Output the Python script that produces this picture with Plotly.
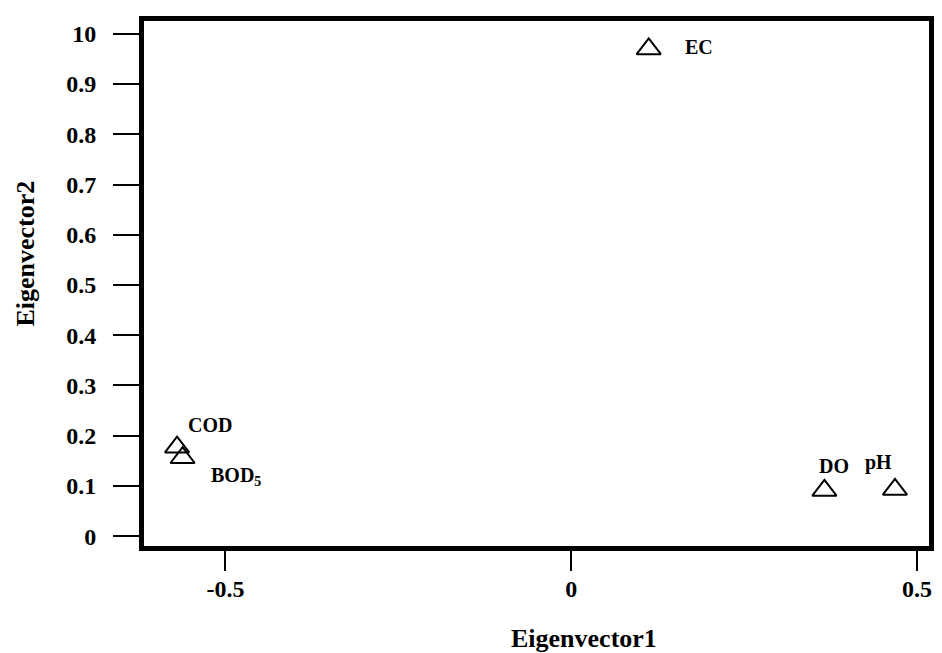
import plotly.graph_objects as go

# Data
variables = ["EC", "COD", "BOD<sub>5</sub>", "DO", "pH"]
eigenvector1 = [0.112, -0.570, -0.562, 0.366, 0.468]
eigenvector2 = [0.970, 0.177, 0.156, 0.091, 0.093]

y_tickvals = [0, 0.1, 0.2, 0.3, 0.4, 0.5, 0.6, 0.7, 0.8, 0.9, 1.0]
y_ticktext = ["0", "0.1", "0.2", "0.3", "0.4", "0.5", "0.6", "0.7", "0.8", "0.9", "10"]
x_tickvals = [-0.5, 0, 0.5]
x_ticktext = ["-0.5", "0", "0.5"]

# label offsets in pixels (style)
label_dx = [50, 33, 53, 10, -16]
label_dy = [2, 22, -19, 24, 27]

FONT = "Liberation Serif, Times New Roman, serif"

fig = go.Figure()
fig.add_trace(go.Scatter(
    x=eigenvector1, y=eigenvector2, mode="markers",
    marker=dict(symbol="triangle-up-open", size=21, color="black",
                line=dict(width=2, color="black")),
    hoverinfo="skip", showlegend=False,
))

for name, xv, yv, dx, dy in zip(variables, eigenvector1, eigenvector2, label_dx, label_dy):
    fig.add_annotation(x=xv, y=yv, text="<b>" + name + "</b>", showarrow=False,
                       xshift=dx, yshift=dy,
                       font=dict(family=FONT, size=20, color="black"))

# axis titles
fig.add_annotation(xref="paper", yref="paper", x=0.5608, y=-0.176,
                   xanchor="center", yanchor="middle", showarrow=False,
                   text="<b>Eigenvector1</b>", font=dict(family=FONT, size=26, color="black"))
fig.add_annotation(xref="paper", yref="paper", x=-0.1506, y=0.5566,
                   xanchor="center", yanchor="middle", showarrow=False, textangle=-90,
                   text="<b>Eigenvector2</b>", font=dict(family=FONT, size=26, color="black"))

fig.update_layout(
    width=934, height=645,
    margin=dict(l=136, r=8, t=8, b=107),
    plot_bgcolor="white", paper_bgcolor="white",
    font=dict(family=FONT, color="black"),
    xaxis=dict(
        range=[-0.6178, 0.5172], tickvals=x_tickvals,
        ticktext=["<b>" + t + "</b>" for t in x_ticktext],
        showgrid=False, zeroline=False, showline=True, mirror=True,
        linecolor="black", linewidth=5, ticks="outside", ticklen=20, tickwidth=2,
        tickcolor="black", tickfont=dict(family=FONT, size=24),
        ticklabelstandoff=-3,
    ),
    yaxis=dict(
        range=[-0.0197, 1.0256], tickvals=y_tickvals,
        ticktext=["<b>" + t + "</b>" for t in y_ticktext],
        showgrid=False, zeroline=False, showline=True, mirror=True,
        linecolor="black", linewidth=5, ticks="outside", ticklen=26, tickwidth=2,
        tickcolor="black", tickfont=dict(family=FONT, size=24),
        ticklabelstandoff=12,
    ),
)

fig.write_html("out.html")
